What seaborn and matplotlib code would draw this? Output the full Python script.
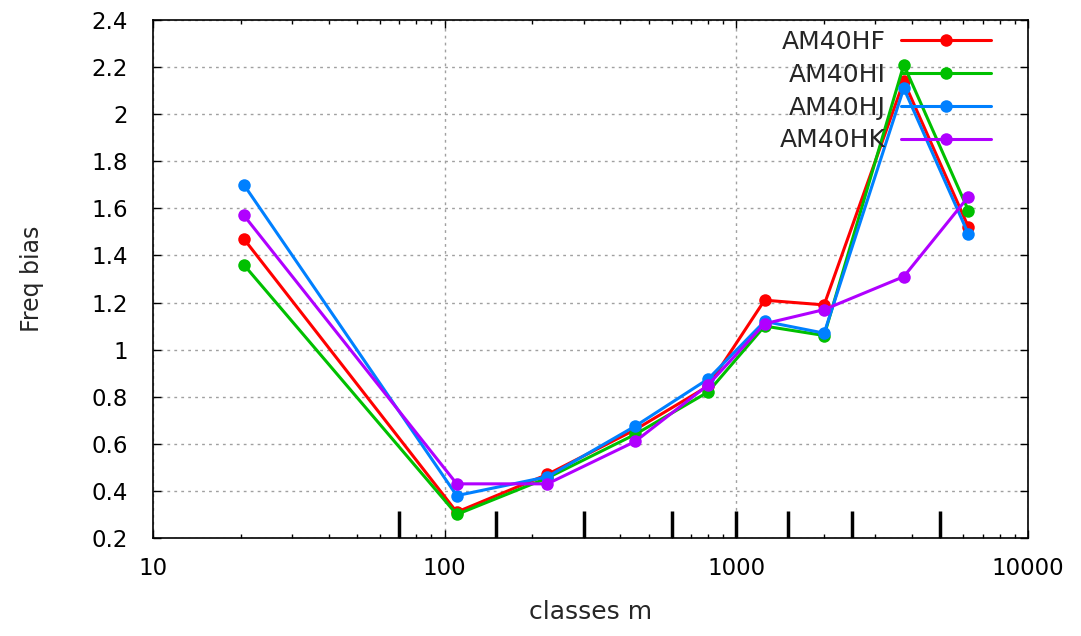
import matplotlib
matplotlib.use("Agg")
import matplotlib.pyplot as plt
import matplotlib.ticker as mticker
import numpy as np
import pandas as pd
import seaborn as sns

# class midpoints (m) and class boundaries
classes = [20.5, 110, 225, 450, 800, 1250, 2000, 3750, 6250]
class_bounds = [70, 150, 300, 600, 1000, 1500, 2500, 5000]

am40hf = [1.47, 0.31, 0.47, 0.66, 0.845, 1.21, 1.19, 2.14, 1.52]
am40hi = [1.36, 0.30, 0.455, 0.64, 0.82, 1.10, 1.06, 2.21, 1.59]
am40hj = [1.70, 0.38, 0.46, 0.675, 0.875, 1.12, 1.07, 2.11, 1.49]
am40hk = [1.57, 0.43, 0.43, 0.61, 0.85, 1.11, 1.17, 1.31, 1.65]

series = {"AM40HF": am40hf, "AM40HI": am40hi, "AM40HJ": am40hj, "AM40HK": am40hk}
colors = {"AM40HF": "#ff0000", "AM40HI": "#00c000", "AM40HJ": "#0080ff", "AM40HK": "#b000ff"}

df = pd.concat(
    [pd.DataFrame({"classe": classes, "bias": v, "run": k}) for k, v in series.items()],
    ignore_index=True,
)

sns.set_style("ticks")
plt.rcParams["font.family"] = ["DejaVu Sans"]
plt.rcParams["font.size"] = 16

fig = plt.figure(figsize=(10.81, 6.36), dpi=100)
ax = fig.add_axes([153 / 1081, 98 / 636, 875 / 1081, 518 / 636])

sns.lineplot(
    data=df, x="classe", y="bias", hue="run", palette=colors,
    marker="o", markersize=9, markeredgewidth=0, linewidth=2.2, ax=ax,
)

# class boundaries as tall tick marks
ax.vlines(class_bounds, 0, 27 / 518, transform=ax.get_xaxis_transform(),
          color="black", linewidth=2.5, zorder=5)

ax.set_xscale("log")
ax.set_xlim(10, 10000)
ax.set_ylim(0.2, 2.4)
ax.yaxis.set_major_locator(mticker.MultipleLocator(0.2))
ax.yaxis.set_major_formatter(mticker.FuncFormatter(lambda v, p: f"{v:g}"))
ax.xaxis.set_major_formatter(mticker.FuncFormatter(lambda v, p: f"{v:g}"))

ax.grid(True, which="major", color="#a0a0a0", linestyle=(0, (2, 3)), linewidth=1)
ax.tick_params(which="both", direction="in", top=True, right=True, width=1,
               colors="black", labelsize=16.5)
ax.tick_params(which="major", length=6)
ax.tick_params(which="minor", length=3)
ax.tick_params(axis="y", pad=18)
ax.tick_params(axis="x", pad=14)
for s in ax.spines.values():
    s.set_linewidth(1.2)
    s.set_color("black")

ax.set_xlabel("classes m", fontsize=18, labelpad=14)
ax.set_ylabel("Freq bias", fontsize=17, labelpad=34)

ax.legend(loc="upper right", bbox_to_anchor=((991 - 153) / 875, (538 - 30) / 518),
          frameon=False, markerfirst=False, handlelength=3.6, handletextpad=0.6,
          labelspacing=0.35, borderpad=0, borderaxespad=0, fontsize=18)

fig.savefig("out.png", dpi=100)
